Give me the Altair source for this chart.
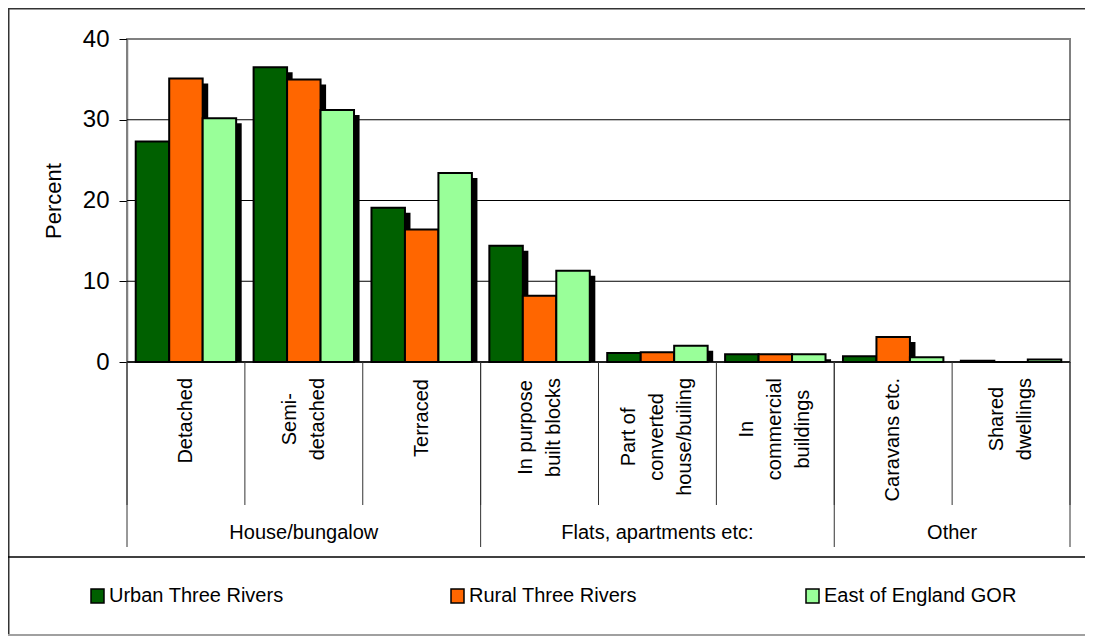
import altair as alt
import pandas as pd

# ---------------- data ----------------
categories = ["Detached", "Semi-\ndetached", "Terraced", "In purpose\nbuilt blocks",
              "Part of\nconverted\nhouse/builing", "In\ncommercial\nbuildings",
              "Caravans etc.", "Shared\ndwellings"]
groups = ["House/bungalow", "Flats, apartments etc:", "Other"]
group_sizes = [3, 3, 2]
series = ["Urban Three Rivers", "Rural Three Rivers", "East of England GOR"]
urban = [27.3, 36.5, 19.1, 14.4, 1.1, 0.95, 0.7, 0.15]
rural = [35.1, 35.0, 16.4, 8.2, 1.2, 0.95, 3.1, 0.0]
east = [30.2, 31.2, 23.4, 11.3, 2.0, 0.95, 0.6, 0.3]
y_ticks = [0, 10, 20, 30, 40]

# ---------------- style / layout ----------------
colors = ["#006000", "#ff6600", "#99ff99"]
FONT = "Liberation Sans"
FS = 20
W, H = 943, 323
PAD_L, PAD_T, PAD_R, PAD_B = 119, 31, 15, 274
NCAT = len(categories)
BAR_W = 0.284
GROUP_PAD = (1 - 3 * BAR_W) / 2
SH_X, SH_Y = 0.047, 0.62
CAT_SEP_Y = 466
GRP_SEP_Y = 508
CAT_LABEL_TOP = 339
LINE_H = 28
GRP_LABEL_Y = 494
LEGEND_X = [-36, 324, 679]
LEGEND_Y = 557
RIGHT = W + PAD_R
LEFT = -PAD_L

# Arial advance widths (1/1000 em) used to centre rotated multi-line labels
AW = {" ": 278, "-": 333, ".": 278, "/": 278, "a": 556, "b": 556, "c": 500, "d": 556,
      "e": 556, "f": 278, "g": 556, "h": 556, "i": 222, "k": 500, "l": 222, "m": 833,
      "n": 556, "o": 556, "p": 556, "r": 333, "s": 500, "t": 278, "u": 556, "v": 500,
      "w": 722, "y": 500, "C": 722, "D": 722, "I": 278, "P": 667, "S": 667, "T": 611}


def text_w(s, fs):
    return sum(AW.get(ch, 556) for ch in s) * fs / 1000.0


rows = []
for s, vals in enumerate([urban, rural, east]):
    for c, v in enumerate(vals):
        rows.append({"category": categories[c], "series": series[s], "c": c, "s": s, "value": v})
df = pd.DataFrame(rows)

xs = alt.Scale(domain=[0, NCAT])
ys = alt.Scale(domain=[y_ticks[0], y_ticks[-1]])
y_axis = alt.Axis(
    values=y_ticks, title="Percent", grid=False,
    tickSize=8, tickColor="black", tickWidth=1,
    domainColor="#808080", domainWidth=1.5,
    labelFontSize=24, labelPadding=10, labelColor="black", labelFont=FONT,
    titleFontSize=22, titleFontWeight="normal", titlePadding=17,
    titleColor="black", titleFont=FONT)

base = alt.Chart(df).transform_calculate(
    x0=f"datum.c + {GROUP_PAD} + datum.s * {BAR_W}",
    x1=f"datum.c + {GROUP_PAD} + (datum.s + 1) * {BAR_W}",
    zero="0",
)

grid = alt.Chart(pd.DataFrame({"g": y_ticks[1:-1]})).mark_rule(
    color="black", strokeWidth=1
).encode(y=alt.Y("g:Q", scale=ys, axis=y_axis))

shadow = base.transform_calculate(
    sx0=f"datum.x0 + {SH_X}",
    sx1=f"datum.x1 + {SH_X}",
    sy=f"max(datum.value - {SH_Y}, 0)",
).mark_rect(color="black").encode(
    x=alt.X("sx0:Q", scale=xs, axis=None),
    x2="sx1:Q",
    y=alt.Y("sy:Q", scale=ys, axis=y_axis),
    y2="zero:Q",
)

bars = base.mark_rect(stroke="black", strokeWidth=2).encode(
    x=alt.X("x0:Q", scale=xs, axis=None),
    x2="x1:Q",
    y=alt.Y("value:Q", scale=ys, axis=y_axis),
    y2="zero:Q",
    color=alt.Color("series:N", scale=alt.Scale(domain=series, range=colors), legend=None),
)

baseline = alt.Chart(pd.DataFrame({"b": [0]})).mark_rule(
    color="black", strokeWidth=1.5
).encode(y=alt.Y("b:Q", scale=ys, axis=y_axis))

# separators under the axis
cat_bounds = pd.DataFrame({"b": list(range(NCAT + 1))})
cat_sep = alt.Chart(cat_bounds).mark_rule(color="#333333", strokeWidth=1).encode(
    x=alt.X("b:Q", scale=xs, axis=None), y=alt.value(H), y2=alt.value(CAT_SEP_Y))

gb = [0]
for g in group_sizes:
    gb.append(gb[-1] + g)
grp_sep = alt.Chart(pd.DataFrame({"b": gb})).mark_rule(color="#333333", strokeWidth=1).encode(
    x=alt.X("b:Q", scale=xs, axis=None), y=alt.value(H), y2=alt.value(GRP_SEP_Y))

# rotated category labels: block top-aligned, lines centred on each other
cat_layers = []
for i, lab in enumerate(categories):
    lines = lab.split("\n")
    maxw = max(text_w(l, FS) for l in lines)
    d = pd.DataFrame({"label": [lab], "cx": [i + 0.5]})
    cat_layers.append(alt.Chart(d).mark_text(
        angle=270, align="center", baseline="middle", fontSize=FS, font=FONT,
        lineBreak="\n", lineHeight=LINE_H, color="black",
        dy=-(len(lines) - 1) * LINE_H / 2,
    ).encode(x=alt.X("cx:Q", scale=xs, axis=None),
             y=alt.value(CAT_LABEL_TOP + maxw / 2), text="label:N"))

grp_df = pd.DataFrame({"label": groups,
                       "gx": [(gb[i] + gb[i + 1]) / 2 for i in range(len(groups))]})
grp_labels = alt.Chart(grp_df).mark_text(
    align="center", baseline="middle", fontSize=FS, font=FONT, color="black"
).encode(x=alt.X("gx:Q", scale=xs, axis=None), y=alt.value(GRP_LABEL_Y), text="label:N")

# legend
legend_layers = []
for k, name in enumerate(series):
    d = pd.DataFrame({"name": [name]})
    legend_layers.append(alt.Chart(d).mark_rect(
        fill=colors[k], stroke="black", strokeWidth=1.5
    ).encode(x=alt.value(LEGEND_X[k]), x2=alt.value(LEGEND_X[k] + 13),
             y=alt.value(LEGEND_Y - 7), y2=alt.value(LEGEND_Y + 7)))
    legend_layers.append(alt.Chart(d).mark_text(
        align="left", baseline="middle", fontSize=FS, font=FONT, color="black"
    ).encode(x=alt.value(LEGEND_X[k] + 18), y=alt.value(LEGEND_Y), text="name:N"))

# frame lines
one = pd.DataFrame({"a": [0]})
frame = [
    alt.Chart(one).mark_rule(color="#333333", strokeWidth=1.5).encode(
        x=alt.value(LEFT + 0.75), x2=alt.value(LEFT + 0.75),
        y=alt.value(-PAD_T + 0.75), y2=alt.value(H + PAD_B - 2)),
    alt.Chart(one).mark_rule(color="#333333", strokeWidth=1.5).encode(
        x=alt.value(LEFT), x2=alt.value(RIGHT),
        y=alt.value(-PAD_T + 0.75), y2=alt.value(-PAD_T + 0.75)),
    alt.Chart(one).mark_rule(color="black", strokeWidth=1.5).encode(
        x=alt.value(LEFT), x2=alt.value(RIGHT),
        y=alt.value(518), y2=alt.value(518)),
    alt.Chart(one).mark_rule(color="#808080", strokeWidth=1.5).encode(
        x=alt.value(LEFT), x2=alt.value(RIGHT),
        y=alt.value(596), y2=alt.value(596)),
]

chart = alt.layer(
    grid, shadow, bars, baseline, cat_sep, grp_sep, *cat_layers, grp_labels,
    *legend_layers, *frame
).properties(
    width=W, height=H,
    autosize=alt.AutoSizeParams(type="none"),
    padding={"left": PAD_L, "top": PAD_T, "right": PAD_R, "bottom": PAD_B},
    background="white",
).configure_view(stroke="#808080", strokeWidth=2)

chart.save("out.html", embed_options={"renderer": "svg", "actions": False})
